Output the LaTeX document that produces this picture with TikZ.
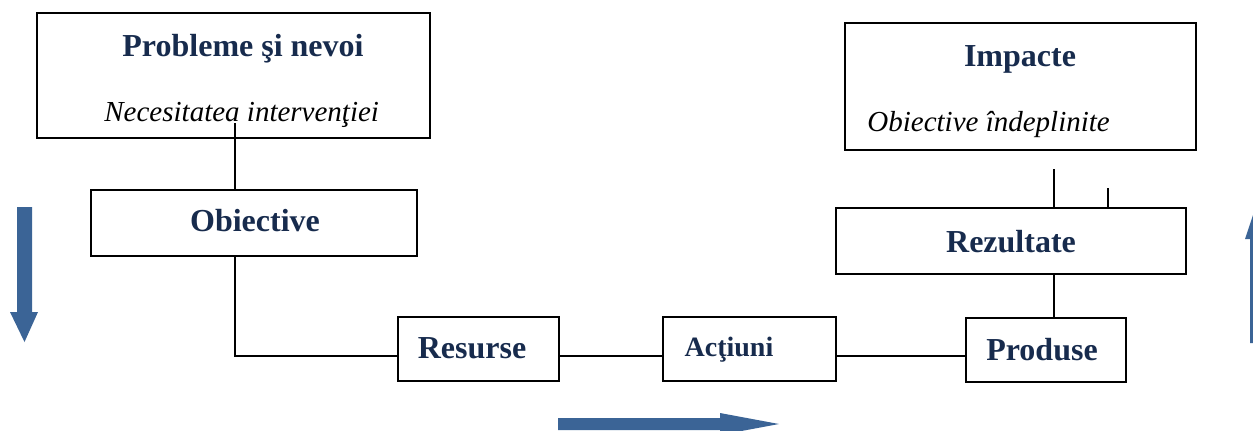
\documentclass[tikz,border=0pt]{standalone}
\usepackage{fontspec}
\setmainfont{Liberation Serif}
\definecolor{navy}{HTML}{172B4D}
\definecolor{arrblue}{HTML}{3B6496}
\begin{document}
\begin{tikzpicture}[x=0.5pt,y=-0.5pt,
  box/.style={draw=black,line width=1pt,rectangle,inner sep=0pt,fill=none},
  conn/.style={line width=1pt,draw=black},
  title/.style={font=\fontsize{16}{18}\selectfont\bfseries,text=navy,anchor=base,inner sep=0pt},
  small/.style={font=\fontsize{14}{16}\selectfont\bfseries,text=navy,anchor=base,inner sep=0pt},
  sub/.style={font=\fontsize{14.5}{16}\selectfont\itshape,text=black,anchor=base west,inner sep=0pt},
  bigarrow/.style={fill=arrblue,draw=none}]
\useasboundingbox (0,0) rectangle (1253,430);
% boxes
\node[box,minimum width=196.5pt,minimum height=62.5pt] (prob) at (233.5,75.5) {};
\node[box,minimum width=163pt,minimum height=33pt] (obj) at (254,223) {};
\node[box,minimum width=80.5pt,minimum height=32pt] (res) at (478.5,349) {};
\node[box,minimum width=86.5pt,minimum height=32pt] (act) at (749.5,349) {};
\node[box,minimum width=80pt,minimum height=32pt] (prod) at (1046,350) {};
\node[box,minimum width=175pt,minimum height=33pt] (rez) at (1011,241) {};
\node[box,minimum width=175.5pt,minimum height=63.5pt] (imp) at (1020.5,86.5) {};
% texts
\node[title] (tprob) at (243,56) {Probleme şi nevoi};
\node[sub] (tnec) at (104,121) {Necesitatea intervenţiei};
\node[title] (tobj) at (255,231) {Obiective};
\node[title] (timp) at (1020,66) {Impacte};
\node[sub] (tind) at (867,131) {Obiective îndeplinite};
\node[title] (trez) at (1011,252) {Rezultate};
\node[title] (tres) at (472,358) {Resurse};
\node[small] (tact) at (729,356) {Acţiuni};
\node[title] (tprod) at (1042,360) {Produse};
% connectors
\coordinate (p1) at (235,123);
\coordinate (rc) at (1054,0);
\coordinate (i1) at (1054,169);
\coordinate (i2) at (1108,188);
\draw[conn] (p1) -- (p1 |- obj.north);
\draw[conn] (obj.south -| p1) |- ([yshift=-3.5pt]res.west);
\draw[conn] ([yshift=-3.5pt]res.east) -- ([yshift=-3.5pt]act.west);
\draw[conn] ([yshift=-3.5pt]act.east) -- ([yshift=-3.5pt]act.east -| prod.west);
\draw[conn] (rez.south -| rc) -- (prod.north -| rc);
\draw[conn] (i1) -- (i1 |- rez.north);
\draw[conn] (i2) -- (i2 |- rez.north);
% big arrows
\begin{scope}
\clip (0,0) rectangle (1253,430);
\fill[bigarrow] (17,207) -- (32,207) -- (32,312) -- (38,312) -- (24.5,342) -- (10,312) -- (17,312) -- cycle;
\fill[bigarrow] (558,418) -- (720,418) -- (720,413) -- (779,424) -- (720,435) -- (720,430) -- (558,430) -- cycle;
\fill[bigarrow] (1250,343) -- (1250,239) -- (1245,239) -- (1257,203) -- (1269,239) -- (1264,239) -- (1264,343) -- cycle;
\end{scope}
\end{tikzpicture}
\end{document}
